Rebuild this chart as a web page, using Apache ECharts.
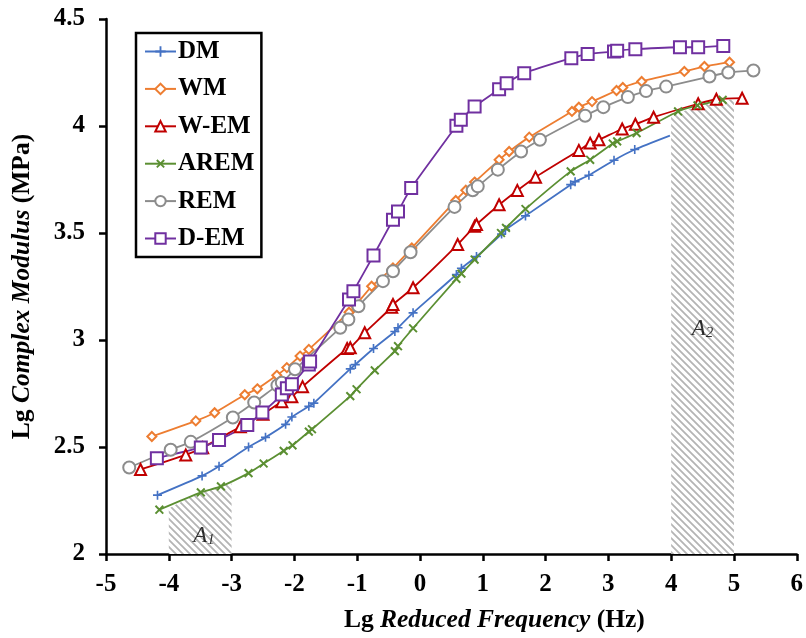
<!DOCTYPE html>
<html>
<head>
<meta charset="utf-8">
<script src="https://cdn.jsdelivr.net/npm/echarts@6/dist/echarts.min.js"></script>
<style>
  html, body { margin: 0; padding: 0; background: #fff; }
  #chart { width: 806px; height: 638px; }
</style>
</head>
<body>
<div id="chart"></div>
<script>
// data: [lg reduced frequency, lg complex modulus]
const dm = [[-4.18,2.275],[-3.47,2.365],[-3.2,2.41],[-2.73,2.50],[-2.46,2.545],[-2.14,2.606],[-2.04,2.64],[-1.77,2.69],[-1.69,2.705],[-1.11,2.865],[-1.03,2.885],[-0.74,2.96],[-0.40,3.04],[-0.35,3.057],[-0.11,3.127],[0.58,3.306],[0.66,3.335],[0.9,3.39],[1.30,3.495],[1.36,3.515],[1.68,3.58],[2.40,3.726],[2.47,3.74],[2.69,3.77],[3.09,3.84],[3.42,3.89],[3.98,3.955]]
const wm = [[-4.27,2.549],[-3.57,2.622],[-3.27,2.66],[-2.79,2.744],[-2.59,2.772],[-2.28,2.835],[-2.12,2.871],[-1.91,2.925],[-1.77,2.956],[-1.13,3.13],[-1.03,3.16],[-0.77,3.251],[-0.43,3.337],[-0.13,3.43],[0.57,3.652],[0.73,3.70],[0.87,3.738],[1.26,3.842],[1.42,3.881],[1.74,3.948],[2.42,4.068],[2.53,4.088],[2.74,4.114],[3.13,4.166],[3.23,4.18],[3.53,4.208],[4.21,4.255],[4.53,4.278],[4.93,4.298]]
const wem = [[-4.45,2.395],[-3.73,2.463],[-3.46,2.497],[-2.86,2.595],[-2.5,2.653],[-2.2,2.712],[-2.04,2.735],[-1.87,2.782],[-1.16,2.96],[-1.11,2.964],[-0.88,3.034],[-0.45,3.153],[-0.43,3.166],[-0.11,3.244],[0.60,3.446],[0.87,3.531],[0.9,3.54],[1.26,3.632],[1.55,3.699],[1.84,3.761],[2.53,3.886],[2.71,3.92],[2.85,3.936],[3.22,3.986],[3.43,4.008],[3.72,4.041],[4.43,4.104],[4.72,4.125],[5.13,4.13]]
const arem = [[-4.15,2.207],[-3.49,2.288],[-3.17,2.316],[-2.73,2.378],[-2.49,2.423],[-2.17,2.482],[-2.03,2.508],[-1.77,2.572],[-1.72,2.583],[-1.11,2.738],[-1.01,2.77],[-0.72,2.858],[-0.40,2.948],[-0.35,2.971],[-0.11,3.055],[0.58,3.286],[0.66,3.31],[0.87,3.376],[1.29,3.50],[1.37,3.524],[1.68,3.612],[2.40,3.788],[2.71,3.842],[3.07,3.918],[3.14,3.928],[3.45,3.967],[4.11,4.068],[4.42,4.096],[4.82,4.122]]
const rem = [[-4.63,2.404],[-3.97,2.487],[-3.65,2.524],[-2.98,2.638],[-2.64,2.708],[-2.27,2.788],[-2.2,2.80],[-1.99,2.863],[-1.27,3.057],[-1.14,3.096],[-0.98,3.158],[-0.59,3.275],[-0.43,3.321],[-0.15,3.41],[0.55,3.622],[0.84,3.70],[0.92,3.718],[1.24,3.796],[1.61,3.881],[1.91,3.936],[2.63,4.048],[2.92,4.088],[3.31,4.135],[3.60,4.163],[3.92,4.184],[4.61,4.231],[4.91,4.25],[5.31,4.259]]
const dem = [[-4.19,2.448],[-3.49,2.498],[-3.20,2.533],[-2.75,2.603],[-2.51,2.661],[-2.20,2.745],[-2.12,2.774],[-2.04,2.793],[-1.77,2.886],[-1.75,2.90],[-1.13,3.189],[-1.06,3.228],[-0.74,3.395],[-0.43,3.562],[-0.35,3.601],[-0.14,3.71],[0.58,4.001],[0.65,4.029],[0.87,4.091],[1.26,4.172],[1.38,4.20],[1.66,4.247],[2.41,4.317],[2.67,4.337],[3.09,4.348],[3.14,4.352],[3.43,4.359],[4.14,4.368],[4.43,4.368],[4.83,4.374]]

// shaded zones (top edge follows AREM)
const zoneA1 = [[-4,2.212],[-3.5,2.286],[-3,2.33]]
const zoneA2 = [[4,4.045],[4.5,4.1],[5,4.125]]
const zoneLabels = [['1',-3.44,2.084],['2',4.5,3.05]]

const serif = '"Liberation Serif", "Times New Roman", serif'

// diagonal hatch pattern
function hatch() {
  const c = document.createElement('canvas')
  c.width = 7
  c.height = 7
  const g = c.getContext('2d')
  g.fillStyle = '#fff'
  g.fillRect(0, 0, 7, 7)
  g.strokeStyle = '#b4b4b4'
  g.lineWidth = 1.8
  g.beginPath()
  g.moveTo(-1, -1); g.lineTo(8, 8)
  g.moveTo(-1, 6); g.lineTo(1, 8)
  g.moveTo(6, -1); g.lineTo(8, 1)
  g.stroke()
  return c
}
const pattern = { image: hatch(), repeat: 'repeat' }

const plus = 'path://M4.1,0H5.9V10H4.1Z M0,4.1H10V5.9H0Z'

function line(name, data, color, symbol, size, extra) {
  return Object.assign({
    name: name,
    type: 'line',
    data: data,
    smooth: 0.2,
    symbol: symbol,
    symbolSize: size,
    z: 3,
    lineStyle: { color: color, width: 1.8 },
    itemStyle: { color: color, borderColor: color, borderWidth: 1.6 }
  }, extra || {})
}

function zone(data) {
  return {
    type: 'line',
    data: data,
    smooth: 0.3,
    symbol: 'none',
    z: 1,
    silent: true,
    lineStyle: { width: 0 },
    areaStyle: { color: pattern, opacity: 1, origin: 'start' }
  }
}

const titleRich = {
  b: { fontFamily: serif, fontWeight: 'bold', fontSize: 25.5, color: '#000' },
  bi: { fontFamily: serif, fontWeight: 'bold', fontStyle: 'italic', fontSize: 25.5, color: '#000' }
}

const chart = echarts.init(document.getElementById('chart'))
const dmData = dm.map((p, i) => i === dm.length - 1 ? { value: p, symbol: 'none' } : p)

chart.setOption({
  animation: false,
  backgroundColor: '#fff',
  grid: { left: 106, right: 6, top: 19, bottom: 83 },
  legend: {
    data: ['DM', 'WM', 'W-EM', 'AREM', 'REM', 'D-EM'],
    orient: 'vertical',
    left: 136,
    top: 33,
    padding: [6, 7, 6, 8],
    itemGap: 12.4,
    itemWidth: 31,
    itemHeight: 13,
    borderColor: '#000',
    borderWidth: 2.5,
    textStyle: { fontFamily: serif, fontWeight: 'bold', fontSize: 25, color: '#000', padding: [0, 0, 0, -3] }
  },
  xAxis: {
    type: 'value',
    min: -5,
    max: 6,
    interval: 1,
    name: '{b|Lg }{bi|Reduced Frequency}{b| (Hz)}',
    nameLocation: 'middle',
    nameGap: 53,
    nameTextStyle: { padding: [0, 0, 0, 86], rich: titleRich },
    axisLine: { onZero: false, lineStyle: { color: '#000', width: 2.5 } },
    axisTick: { length: 7, lineStyle: { color: '#000', width: 2.5 } },
    axisLabel: { fontFamily: serif, fontWeight: 'bold', fontSize: 25, color: '#000', margin: 18 },
    splitLine: { show: false }
  },
  yAxis: {
    type: 'value',
    min: 2,
    max: 4.5,
    interval: 0.5,
    name: '{b|Lg }{bi|Complex Modulus}{b| (MPa)}',
    nameLocation: 'middle',
    nameGap: 71,
    nameTextStyle: { rich: titleRich },
    axisLine: { onZero: false, lineStyle: { color: '#000', width: 2.5 } },
    axisTick: { length: 7, lineStyle: { color: '#000', width: 2.5 } },
    axisLabel: { fontFamily: serif, fontWeight: 'bold', fontSize: 25, color: '#000', margin: 21 },
    splitLine: { show: false }
  },
  series: [
    zone(zoneA1),
    zone(zoneA2),
    {
      type: 'scatter',
      data: zoneLabels.map(d => [d[1], d[2], d[0]]),
      symbolSize: 0,
      silent: true,
      z: 2,
      label: {
        show: true,
        position: 'inside',
        formatter: p => '{a|A}{s|' + p.value[2] + '}',
        rich: {
          a: { fontFamily: serif, fontStyle: 'italic', fontSize: 23, color: '#000', verticalAlign: 'top', lineHeight: 23 },
          s: { fontFamily: serif, fontStyle: 'italic', fontSize: 15, color: '#000', verticalAlign: 'bottom', lineHeight: 15, padding: [12, 0, 0, 0] }
        }
      }
    },
    line('DM', dmData, '#4472C4', plus, 9, { itemStyle: { color: '#4472C4', borderWidth: 0 } }),
    line('WM', wm, '#ED7D31', 'emptyDiamond', 9),
    line('W-EM', wem, '#C00000', 'emptyTriangle', 11),
    line('AREM', arem, '#5B8F32', plus, 11, { symbolRotate: 45, itemStyle: { color: '#5B8F32', borderWidth: 0 } }),
    line('REM', rem, '#8C8C8C', 'emptyCircle', 12),
    line('D-EM', dem, '#7030A0', 'emptyRect', 12)
  ]
})
</script>
</body>
</html>
